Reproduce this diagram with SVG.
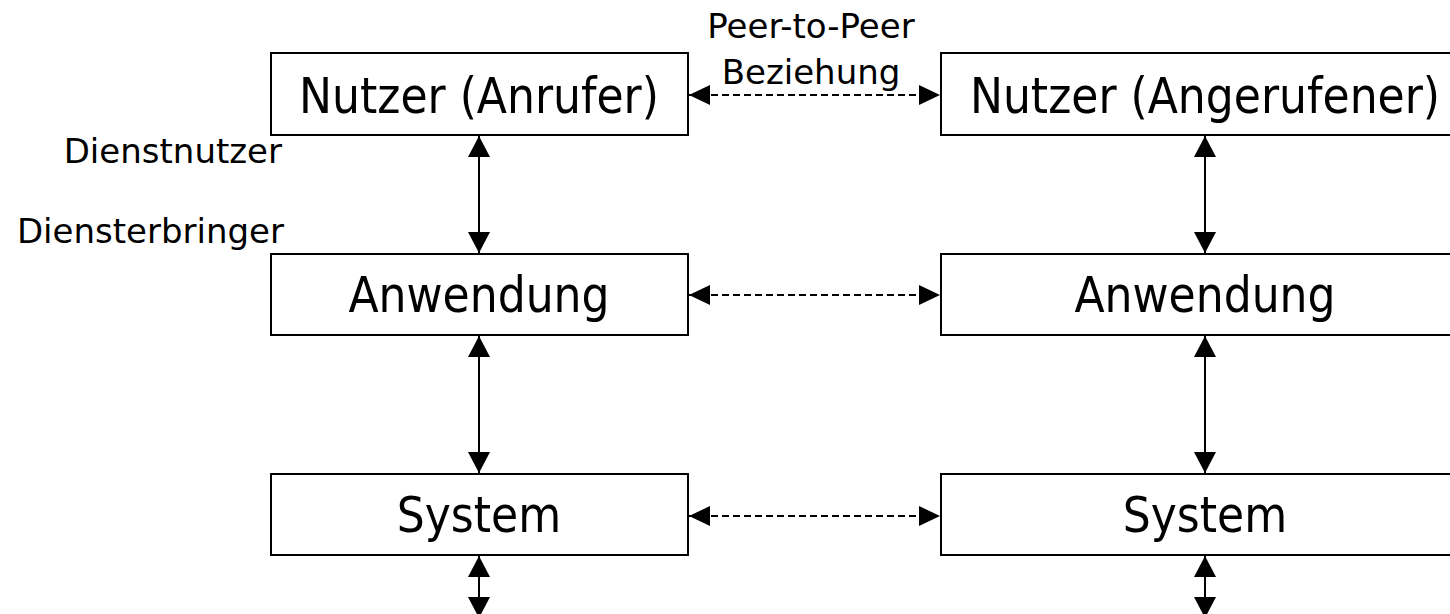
<svg xmlns="http://www.w3.org/2000/svg" width="1450" height="614" viewBox="0 0 1450 614">
  <defs>
    <style>
      .box { fill: #ffffff; stroke: #000000; stroke-width: 2; }
      .big { font-family: "DejaVu Sans Condensed", "DejaVu Sans", sans-serif; font-size: 49px; fill: #000000; text-anchor: middle; }
      .small { font-family: "DejaVu Sans", sans-serif; font-size: 34px; fill: #000000; }
      .solid { stroke: #000000; stroke-width: 2; fill: none; marker-start: url(#head); marker-end: url(#head); }
      .dashed { stroke: #000000; stroke-width: 2; fill: none; stroke-dasharray: 7 4; marker-start: url(#head2); marker-end: url(#head2); }
    </style>
    <marker id="head" markerUnits="userSpaceOnUse" markerWidth="22" markerHeight="22" refX="21" refY="11" orient="auto-start-reverse" viewBox="0 0 22 22">
      <path d="M0,0 L21,11 L0,22 Z" fill="#000000"/>
    </marker>
    <marker id="head2" markerUnits="userSpaceOnUse" markerWidth="22" markerHeight="22" refX="21" refY="10" orient="auto-start-reverse" viewBox="0 0 22 20">
      <path d="M0,0 L21,10 L0,20 Z" fill="#000000"/>
    </marker>
  </defs>

  <rect width="1450" height="614" fill="#ffffff"/>

  <!-- left stack -->
  <g id="nutzer-anrufer">
    <rect class="box" x="271" y="53" width="417" height="82"/>
    <text class="big" x="479" y="113">Nutzer (Anrufer)</text>
  </g>
  <g id="anwendung-links">
    <rect class="box" x="271" y="254" width="417" height="81"/>
    <text class="big" x="479" y="312">Anwendung</text>
  </g>
  <g id="system-links">
    <rect class="box" x="271" y="474" width="417" height="81"/>
    <text class="big" x="479" y="532">System</text>
  </g>

  <!-- right stack -->
  <g id="nutzer-angerufener">
    <rect class="box" x="941" y="53" width="528" height="82"/>
    <text class="big" x="1205" y="113">Nutzer (Angerufener)</text>
  </g>
  <g id="anwendung-rechts">
    <rect class="box" x="941" y="254" width="528" height="81"/>
    <text class="big" x="1205" y="312">Anwendung</text>
  </g>
  <g id="system-rechts">
    <rect class="box" x="941" y="474" width="528" height="81"/>
    <text class="big" x="1205" y="532">System</text>
  </g>

  <!-- side labels -->
  <g id="labels">
    <text class="small" x="282" y="163" text-anchor="end">Dienstnutzer</text>
    <text class="small" x="284" y="243" text-anchor="end">Diensterbringer</text>
    <text class="small" x="811" y="38" text-anchor="middle">Peer-to-Peer</text>
    <text class="small" x="811" y="84" text-anchor="middle">Beziehung</text>
  </g>

  <!-- connectors -->
  <g id="connectors">
    <line class="solid" x1="479" y1="136" x2="479" y2="253"/>
    <line class="solid" x1="479" y1="336" x2="479" y2="473"/>
    <line class="solid" x1="479" y1="556" x2="479" y2="618"/>
    <line class="solid" x1="1205" y1="136" x2="1205" y2="253"/>
    <line class="solid" x1="1205" y1="336" x2="1205" y2="473"/>
    <line class="solid" x1="1205" y1="556" x2="1205" y2="618"/>
    <line class="dashed" x1="689" y1="95" x2="940" y2="95"/>
    <line class="dashed" x1="689" y1="295" x2="940" y2="295"/>
    <line class="dashed" x1="689" y1="516" x2="940" y2="516"/>
  </g>
</svg>
